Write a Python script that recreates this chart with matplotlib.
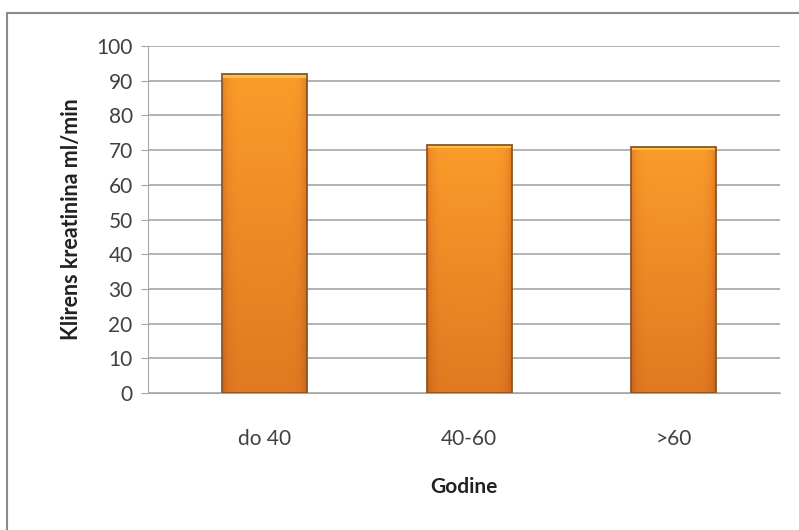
import numpy as np
import matplotlib.pyplot as plt
from matplotlib.patches import Rectangle
from matplotlib.colors import LinearSegmentedColormap

categories = ['do 40', '40-60', '>60']
values = [91.8, 71.5, 70.9]
yticks = list(range(0, 101, 10))

plt.rcParams['font.family'] = ['Lato', 'DejaVu Sans']

W, H = 799, 530
fig = plt.figure(figsize=(W / 100, H / 100), dpi=100)
fig.patch.set_facecolor('white')

# outer chart border
fig.patches.append(Rectangle((7 / W, -0.05), 1.0, 1 - 13 / H + 0.05,
                             transform=fig.transFigure, fill=False,
                             edgecolor='#8a8a8a', linewidth=1.5))

ax = fig.add_axes([148 / W, 1 - 393 / H, (780 - 148) / W, (393 - 46) / H])
ax.set_ylim(0, 100)
ax.set_xlim(-0.57, 2.52)

ax.set_yticks(yticks)
ax.yaxis.grid(True, color='#a6a6a6', linewidth=1.2)
ax.set_axisbelow(True)
for s in ['top', 'right']:
    ax.spines[s].set_visible(False)
ax.spines['left'].set_color('#a6a6a6')
ax.spines['bottom'].set_color('#a6a6a6')
ax.tick_params(axis='y', length=5, color='#a6a6a6', labelsize=15,
               labelcolor='#404040', pad=6)
ax.tick_params(axis='x', length=0, labelsize=15, labelcolor='#404040', pad=26)

bw = 0.415
x = np.arange(len(categories))
bars = ax.bar(x, values, width=bw, color='none', edgecolor='#8a5526',
              linewidth=1.3, zorder=3)

# orange gradient fill, lighter at the top, darker edges and bottom
cmap = LinearSegmentedColormap.from_list('o', ['#c8641a', '#e47c22', '#fa9c2a'])
ny, nx = 100, 40
gy = np.linspace(0, 1, ny)[:, None]
gx = np.linspace(-1, 1, nx)[None, :]
img = 0.45 + 0.55 * gy - 0.4 * np.abs(gx) ** 8
for b in bars:
    x0, w, h = b.get_x(), b.get_width(), b.get_height()
    im = ax.imshow(img, cmap=cmap, vmin=0, vmax=1, aspect='auto',
                   extent=[x0, x0 + w, 0, h], origin='lower', zorder=2)
    im.set_clip_path(b)
    ax.bar(x0 + w / 2, 1.0, bottom=h - 1.0, width=w, color='#fcc040',
           edgecolor='none', zorder=2.5)

ax.set_xticks(x)
ax.set_xticklabels(categories)

ax.set_xlabel('Godine', fontsize=15, fontweight='bold', color='#222222',
              labelpad=20)
ax.set_ylabel('Klirens kreatinina ml/min', fontsize=15.5, fontweight='bold',
              color='#222222', labelpad=10)

fig.savefig('out.png', dpi=100)
